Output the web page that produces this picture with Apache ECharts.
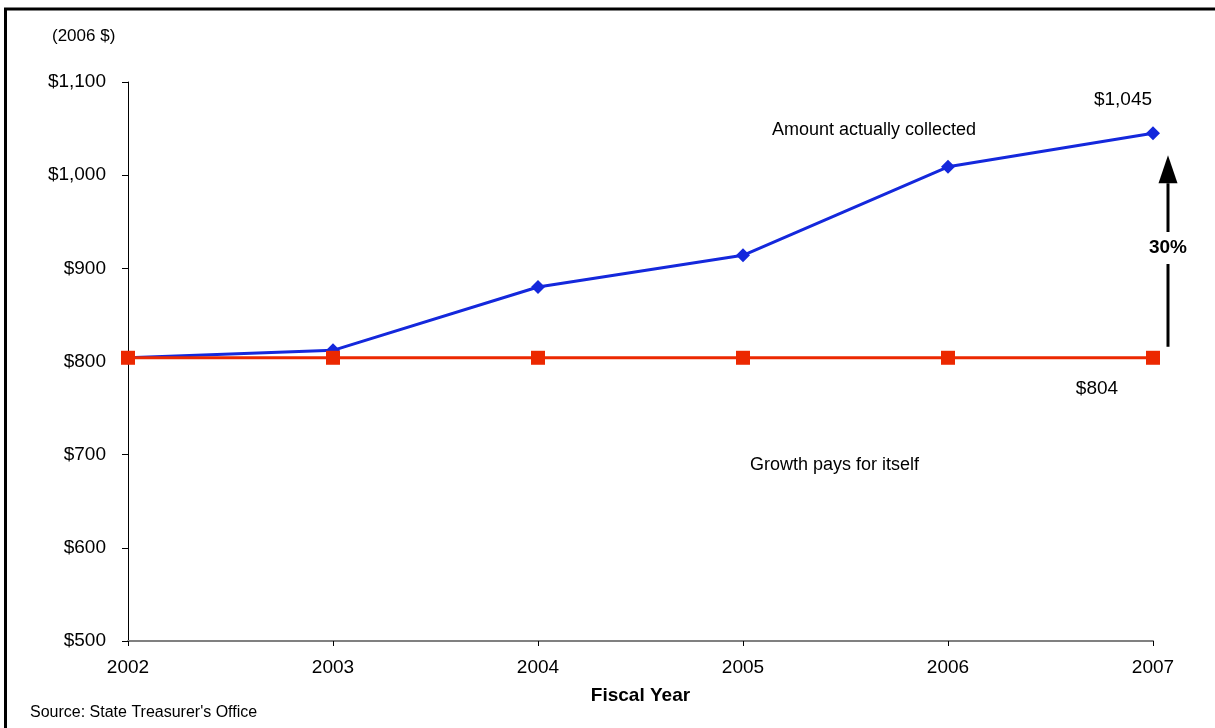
<!DOCTYPE html>
<html>
<head>
<meta charset="utf-8">
<title>Fiscal Year Collections</title>
<script src="https://cdn.jsdelivr.net/npm/echarts@6/dist/echarts.min.js"></script>
<style>
  html, body { margin: 0; padding: 0; background: #fff; }
  #chart { width: 1215px; height: 728px; }
</style>
</head>
<body>
<div id="chart"></div>
<script>
// Fiscal years on the horizontal axis
const years = ['2002', '2003', '2004', '2005', '2006', '2007'];
// Amount actually collected (2006 $)
const collected = [804, 812, 880, 914, 1009, 1045];
// Amount if growth only paid for itself (2006 $)
const baseline = [804, 804, 804, 804, 804, 804];
// Vertical axis range
const yMin = 500, yMax = 1100, yStep = 100;
// Percentage change shown beside the arrow
const growthLabel = '30%';

const FONT = '"Liberation Sans", Arial, sans-serif';
const fmtMoney = v => '$' + Number(v).toLocaleString('en-US');

const chart = echarts.init(document.getElementById('chart'));

const lastIdx = years.length - 1;

const option = {
  animation: false,
  backgroundColor: '#fff',
  textStyle: { fontFamily: FONT },
  grid: { left: 128, right: 62, top: 82, bottom: 87 },
  xAxis: {
    type: 'category',
    data: years,
    boundaryGap: false,
    axisLine: { lineStyle: { color: '#808080', width: 2 } },
    axisTick: { alignWithLabel: true, length: 5, lineStyle: { color: '#000', width: 1 } },
    axisLabel: { color: '#000', fontSize: 19, fontFamily: FONT, margin: 17 },
    splitLine: { show: false },
    name: 'Fiscal Year',
    nameLocation: 'middle',
    nameGap: 45,
    nameTextStyle: { color: '#000', fontSize: 19, fontWeight: 'bold', fontFamily: FONT }
  },
  yAxis: {
    type: 'value',
    min: yMin,
    max: yMax,
    interval: yStep,
    axisLine: { show: true, lineStyle: { color: '#000', width: 1 } },
    axisTick: { show: true, length: 6, lineStyle: { color: '#000', width: 1 } },
    axisLabel: { color: '#000', fontSize: 19, fontFamily: FONT, margin: 22, formatter: fmtMoney },
    splitLine: { show: false }
  },
  series: [
    {
      name: 'Amount actually collected',
      type: 'line',
      data: collected.map((v, i) => i === lastIdx ? {
        value: v,
        label: {
          show: true, position: 'top', offset: [-30, -12],
          formatter: p => fmtMoney(p.value),
          color: '#000', fontSize: 19, fontFamily: FONT
        }
      } : v),
      symbol: 'diamond',
      symbolSize: 14,
      lineStyle: { color: '#1428dc', width: 3 },
      itemStyle: { color: '#1428dc' },
      z: 2
    },
    {
      name: 'Growth pays for itself',
      type: 'line',
      data: baseline.map((v, i) => i === lastIdx ? {
        value: v,
        label: {
          show: true, position: 'bottom', offset: [-56, 9],
          formatter: p => fmtMoney(p.value),
          color: '#000', fontSize: 19, fontFamily: FONT
        }
      } : v),
      symbol: 'rect',
      symbolSize: 14,
      lineStyle: { color: '#ec2800', width: 3 },
      itemStyle: { color: '#ec2800' },
      z: 3
    }
  ]
};

chart.setOption(option);

// Arrow from the baseline end up toward the collected end, broken by the % label
const px = chart.convertToPixel({ seriesIndex: 0 }, [lastIdx, collected[lastIdx]]);
const pBase = chart.convertToPixel({ seriesIndex: 1 }, [lastIdx, baseline[lastIdx]]);
const ax = px[0] + 15;
const yBottom = pBase[1] - 11;
const yApex = px[1] + 22;
const yHeadBase = yApex + 28;
const yMid = (yBottom + yHeadBase) / 2 - 17;

chart.setOption({
  graphic: [
    // outer frame
    {
      type: 'rect', silent: true,
      shape: { x: 5.5, y: 9, width: 1400, height: 900 },
      style: { fill: 'none', stroke: '#000', lineWidth: 3 }
    },
    {
      type: 'text', left: 52, top: 28,
      style: { text: '(2006 $)', fill: '#000', font: '17px ' + FONT }
    },
    {
      type: 'text', left: 772, top: 121,
      style: { text: 'Amount actually collected', fill: '#000', font: '18px ' + FONT }
    },
    {
      type: 'text', left: 750, top: 456,
      style: { text: 'Growth pays for itself', fill: '#000', font: '18px ' + FONT }
    },
    {
      type: 'text', left: 30, top: 705,
      style: { text: "Source: State Treasurer's Office", fill: '#000', font: '16px ' + FONT }
    },
    // arrow shaft (lower part)
    {
      type: 'line', silent: true,
      shape: { x1: ax, y1: yBottom, x2: ax, y2: yMid + 16 },
      style: { stroke: '#000', lineWidth: 3 }
    },
    // arrow shaft (upper part)
    {
      type: 'line', silent: true,
      shape: { x1: ax, y1: yMid - 16, x2: ax, y2: yHeadBase },
      style: { stroke: '#000', lineWidth: 3 }
    },
    // arrow head
    {
      type: 'polygon', silent: true,
      shape: { points: [[ax, yApex], [ax - 9.5, yHeadBase], [ax + 9.5, yHeadBase]] },
      style: { fill: '#000' }
    },
    {
      type: 'text', silent: true,
      x: ax, y: yMid,
      style: {
        text: growthLabel, fill: '#000', font: 'bold 19px ' + FONT,
        align: 'center', verticalAlign: 'middle'
      }
    }
  ]
});
</script>
</body>
</html>
